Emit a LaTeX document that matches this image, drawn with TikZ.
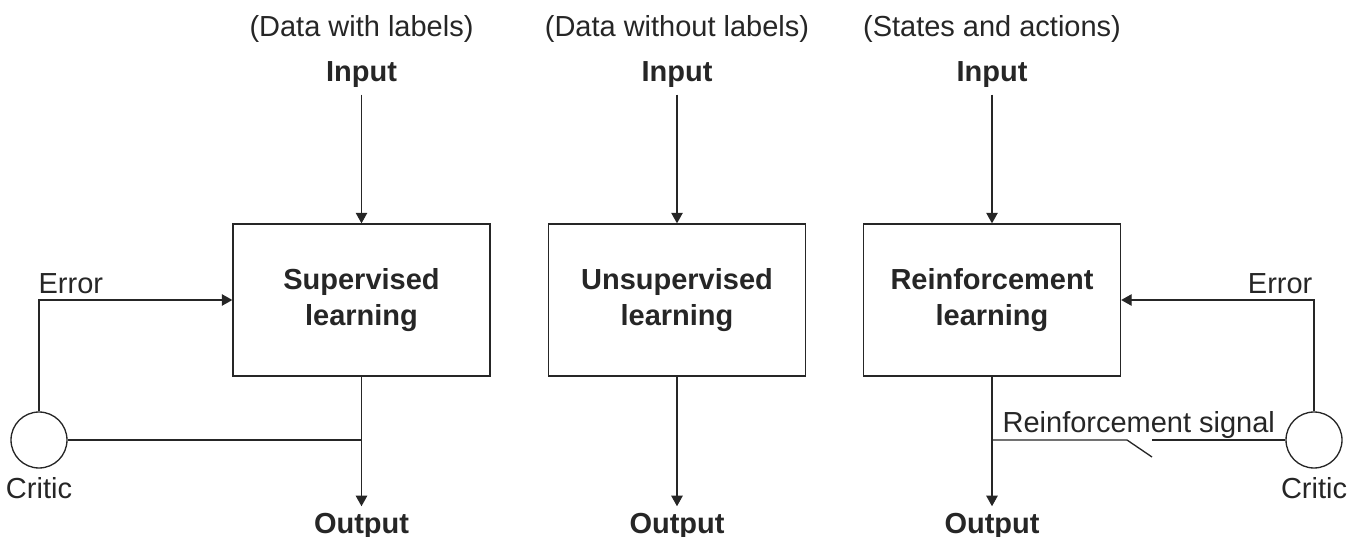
\documentclass[tikz,border=0pt]{standalone}
\usepackage{fontspec}
\setmainfont{Liberation Sans}
\usetikzlibrary{arrows.meta}

\begin{document}
\begin{tikzpicture}[x=0.02cm, y=-0.02cm, line width=0.75pt, draw=black!85,
  >={Triangle[length=6pt, width=6.5pt]},
  every node/.style={font=\fontsize{16.5}{20}\selectfont, text=black!85}]
\useasboundingbox (0,0) rectangle (1360,537);

              % Supervised
\node[anchor=base] at (361.5, 37)
(cap1) {(Data with labels)};

\node[anchor=base, font=\fontsize{16.5}{20}\selectfont\bfseries] at (361.5, 82)
(in1) {Input};

\node[shape=rectangle, draw=black!85, minimum width=5.14cm, minimum height=3.04cm,
  align=center, font=\fontsize{16.5}{20}\selectfont\bfseries] at (361.5, 300)
(sl) {Supervised\\learning};

\node[anchor=base, font=\fontsize{16.5}{20}\selectfont\bfseries] at (361.5, 533)
(out1) {Output};

\node[shape=circle, draw=black!85, minimum size=1.12cm, inner sep=0pt] at (39, 440)
(crit1) {};
\node[anchor=base] at (39, 498)
(critlbl1) {Critic};
\node[anchor=base west, inner sep=0pt] at (38, 293)
(err1) {Error};

\coordinate (j1) at (361.5, 440);

\draw[->]
  (in1) edge (sl)
  (sl)  edge (out1)
;
\draw[->] (crit1) |- (sl);
\draw (crit1) -- (j1);

              % Unsupervised
\node[anchor=base] at (677, 37)
(cap2) {(Data without labels)};

\node[anchor=base, font=\fontsize{16.5}{20}\selectfont\bfseries] at (677, 82)
(in2) {Input};

\node[shape=rectangle, draw=black!85, minimum width=5.14cm, minimum height=3.04cm,
  align=center, font=\fontsize{16.5}{20}\selectfont\bfseries] at (677, 300)
(ul) {Unsupervised\\learning};

\node[anchor=base, font=\fontsize{16.5}{20}\selectfont\bfseries] at (677, 533)
(out2) {Output};

\draw[->]
  (in2) edge (ul)
  (ul)  edge (out2)
;

              % Reinforcement
\node[anchor=base] at (992, 37)
(cap3) {(States and actions)};

\node[anchor=base, font=\fontsize{16.5}{20}\selectfont\bfseries] at (992, 82)
(in3) {Input};

\node[shape=rectangle, draw=black!85, minimum width=5.14cm, minimum height=3.04cm,
  align=center, font=\fontsize{16.5}{20}\selectfont\bfseries] at (992, 300)
(rl) {Reinforcement\\learning};

\node[anchor=base, font=\fontsize{16.5}{20}\selectfont\bfseries] at (992, 533)
(out3) {Output};

\node[shape=circle, draw=black!85, minimum size=1.12cm, inner sep=0pt] at (1314, 440)
(crit3) {};
\node[anchor=base] at (1314, 498)
(critlbl3) {Critic};
\node[anchor=base east, inner sep=0pt] at (1313, 293)
(err3) {Error};
\node[anchor=base west, inner sep=0pt] at (1002, 432)
(sig) {Reinforcement signal};

\coordinate (j3) at (992, 440);
\coordinate (swa) at (1127, 440);
\coordinate (swb) at (1152, 457);
\coordinate (swc) at (1152, 440);

\draw[->]
  (in3) edge (rl)
  (rl)  edge (out3)
;
\draw[->] (crit3) |- (rl);
\draw (j3) -- (swa) -- (swb);
\draw (swc) -- (crit3);
\end{tikzpicture}
\end{document}
